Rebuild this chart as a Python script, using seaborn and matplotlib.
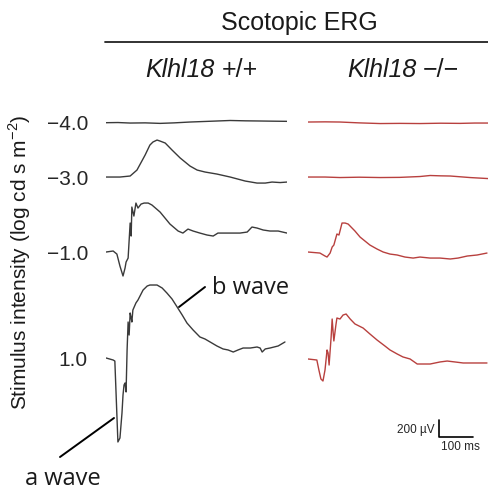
import pandas as pd
import seaborn as sns
import matplotlib.pyplot as plt
from matplotlib.lines import Line2D

# stimulus intensities (log cd s m-2), one row of traces each
intensities = ["\u22124.0", "\u22123.0", "\u22121.0", "1.0"]

# Klhl18 +/+ traces: time (ms) and amplitude (uV)
wt_m4_t = [0, 35, 71, 115, 159, 200, 247, 300, 365, 410, 453, 490, 532]
wt_m4_uv = [-8, -6, -12, -10, -16, -10, 0, 8, 18, 14, 12, 10, 8]

wt_m3_t = [0, 41, 71, 91, 115, 129, 138, 150, 159, 174, 194, 218, 247, 268,
           291, 326, 365, 409, 444, 468, 488, 512, 532]
wt_m3_uv = [0, 0, 12, 82, 259, 376, 412, 435, 423, 400, 318, 224, 129, 82,
            59, 35, 0, -47, -71, -71, -59, -65, -59]

wt_m1_t = [0, 21, 32, 41, 50, 56, 59, 65, 71, 74, 76, 82, 88, 94, 103, 112,
           124, 135, 159, 188, 212, 226, 241, 256, 276, 297, 315, 329, 350,
           394, 415, 429, 444, 462, 482, 506, 532]
wt_m1_uv = [0, 12, -24, -165, -282, -188, -118, -71, 341, 188, 529, 423, 576,
            517, 564, 576, 576, 553, 470, 329, 247, 223, 270, 247, 223, 200,
            188, 223, 223, 223, 235, 294, 282, 259, 247, 247, 223]

wt_p1_t = [0, 21, 26, 32, 35, 41, 47, 50, 53, 56, 59, 62, 65, 68, 71, 74, 76,
           79, 88, 94, 109, 121, 129, 150, 165, 179, 194, 209, 224, 238, 256,
           276, 291, 306, 326, 344, 359, 374, 388, 403, 424, 444, 453, 459,
           468, 482, 506, 526]
wt_p1_uv = [12, -12, -24, -659, -976, -929, -635, -423, -306, -282, -388, 106,
            435, 282, 541, 482, 435, 576, 659, 694, 811, 858, 870, 870, 835,
            776, 706, 612, 517, 423, 341, 259, 235, 200, 153, 118, 106, 82,
            106, 129, 129, 141, 129, 82, 118, 129, 153, 200]

# Klhl18 -/- traces
ko_m4_t = [0, 50, 94, 150, 212, 270, 329, 390, 447, 490, 529]
ko_m4_uv = [0, 2, 0, -10, -18, -16, -18, -14, -16, -12, -12]

ko_m3_t = [0, 50, 94, 150, 212, 270, 329, 359, 390, 418, 476, 529]
ko_m3_uv = [0, 0, -6, -2, -6, -4, 6, 18, 14, 12, -6, -18]

ko_m1_t = [0, 35, 50, 56, 65, 71, 76, 85, 91, 100, 109, 118, 138, 153, 182,
           203, 221, 241, 262, 285, 309, 329, 359, 388, 418, 441, 468, 497, 526]
ko_m1_uv = [0, -12, -47, -59, -12, 59, 82, 212, 200, 341, 341, 329, 247, 176,
            82, 35, 0, -24, -35, -59, -71, -59, -71, -71, -82, -71, -47, -35,
            -12]

ko_p1_t = [0, 26, 32, 38, 44, 50, 56, 59, 62, 68, 71, 74, 76, 82, 85, 94, 103,
           112, 124, 138, 162, 182, 203, 226, 241, 262, 279, 300, 321, 344,
           359, 388, 409, 432, 456, 491, 526]
ko_p1_uv = [0, -12, -129, -235, -259, -129, 106, 71, -71, 259, 470, 306, 212,
            400, 482, 470, 517, 529, 470, 412, 364, 294, 223, 153, 106, 59, 24,
            0, -59, -59, -59, -35, -24, -35, -47, -47, -47]

# layout: vertical offset of each row (uV below the top row)
row_offset = [0, -647, -1529, -2787]

rows = []
for geno, traces in [("wt", [(wt_m4_t, wt_m4_uv), (wt_m3_t, wt_m3_uv),
                             (wt_m1_t, wt_m1_uv), (wt_p1_t, wt_p1_uv)]),
                     ("ko", [(ko_m4_t, ko_m4_uv), (ko_m3_t, ko_m3_uv),
                             (ko_m1_t, ko_m1_uv), (ko_p1_t, ko_p1_uv)])]:
    for i, (t, uv) in enumerate(traces):
        for tt, vv in zip(t, uv):
            rows.append({"genotype": geno, "intensity": intensities[i],
                         "time": tt, "uv": vv + row_offset[i]})
df = pd.DataFrame(rows)

sns.set_style("white")
plt.rcParams['font.family'] = ['Liberation Sans', 'DejaVu Sans']
plt.rcParams['mathtext.fontset'] = 'custom'
plt.rcParams['mathtext.rm'] = 'Liberation Sans'

W, H = 488, 491
fig = plt.figure(figsize=(W / 100, H / 100), dpi=100)
ax_l = fig.add_axes([106 / W, 31 / H, 181 / W, 360 / H])
ax_r = fig.add_axes([308 / W, 31 / H, 180 / W, 360 / H])

colors = {"wt": "#3a3a3a", "ko": "#b8403e"}
for ax, geno in [(ax_l, "wt"), (ax_r, "ko")]:
    sub = df[df["genotype"] == geno]
    sns.lineplot(data=sub, x="time", y="uv", units="intensity", estimator=None,
                 sort=False, color=colors[geno], lw=1.0, ax=ax, legend=False)
    ax.set_ylim(-3975, 259)
    ax.set_xlabel("")
    ax.set_ylabel("")
    ax.set_xticks([])
    for s in ax.spines.values():
        s.set_visible(False)
ax_l.set_xlim(0, 532)
ax_r.set_xlim(0, 529)

ax_l.set_yticks(row_offset)
ax_l.set_yticklabels(intensities, fontsize=15)
ax_l.tick_params(axis='y', length=0, pad=13)
ax_r.set_yticks([])

# titles
txt_c = '#1a1a1a'
fig.text(299 / W, 468 / H, "Scotopic ERG", fontsize=18, ha='center', va='center',
         color=txt_c)
fig.add_artist(Line2D([105 / W, 1.0], [449 / H, 449 / H], color='#222222', lw=1.3))
fig.text(214 / W, 421 / H, "Klhl18", fontsize=18, style='italic', ha='right',
         va='center', color=txt_c)
fig.text(222 / W, 421 / H, "+/+", fontsize=18, ha='left', va='center', color=txt_c)
fig.text(416 / W, 421 / H, "Klhl18", fontsize=18, style='italic', ha='right',
         va='center', color=txt_c)
fig.text(423 / W, 421 / H, "\u2212/\u2212", fontsize=18, ha='left', va='center',
         color=txt_c)
fig.text(20 / W, 229 / H, "Stimulus intensity (log cd s m$^{\\mathregular{-2}}$)",
         fontsize=15, rotation=90, ha='center', va='center', color=txt_c)

# wave annotations
fig.text(212 / W, 203 / H, "b wave", fontsize=17, family='Open Sans', va='center',
         color=txt_c)
fig.add_artist(Line2D([205 / W, 179 / W], [204 / H, 184 / H], color='k', lw=1.4))
fig.text(25 / W, 12 / H, "a wave", fontsize=17, family='Open Sans', va='center',
         color=txt_c)
fig.add_artist(Line2D([60 / W, 114 / W], [34 / H, 73 / H], color='k', lw=1.4))

# scale bar: 100 ms x 200 uV
sb_t, sb_v = 385, -3705
ax_r.plot([sb_t, sb_t, sb_t + 100], [sb_v + 200, sb_v, sb_v], color='k', lw=1.2,
          clip_on=False)
ax_r.text(sb_t - 12, sb_v + 85, "200 \u00b5V", fontsize=8.5, ha='right', va='center')
ax_r.text(sb_t + 62, sb_v - 120, "100 ms", fontsize=8.5, ha='center', va='center')

fig.savefig("out.png", dpi=100)
